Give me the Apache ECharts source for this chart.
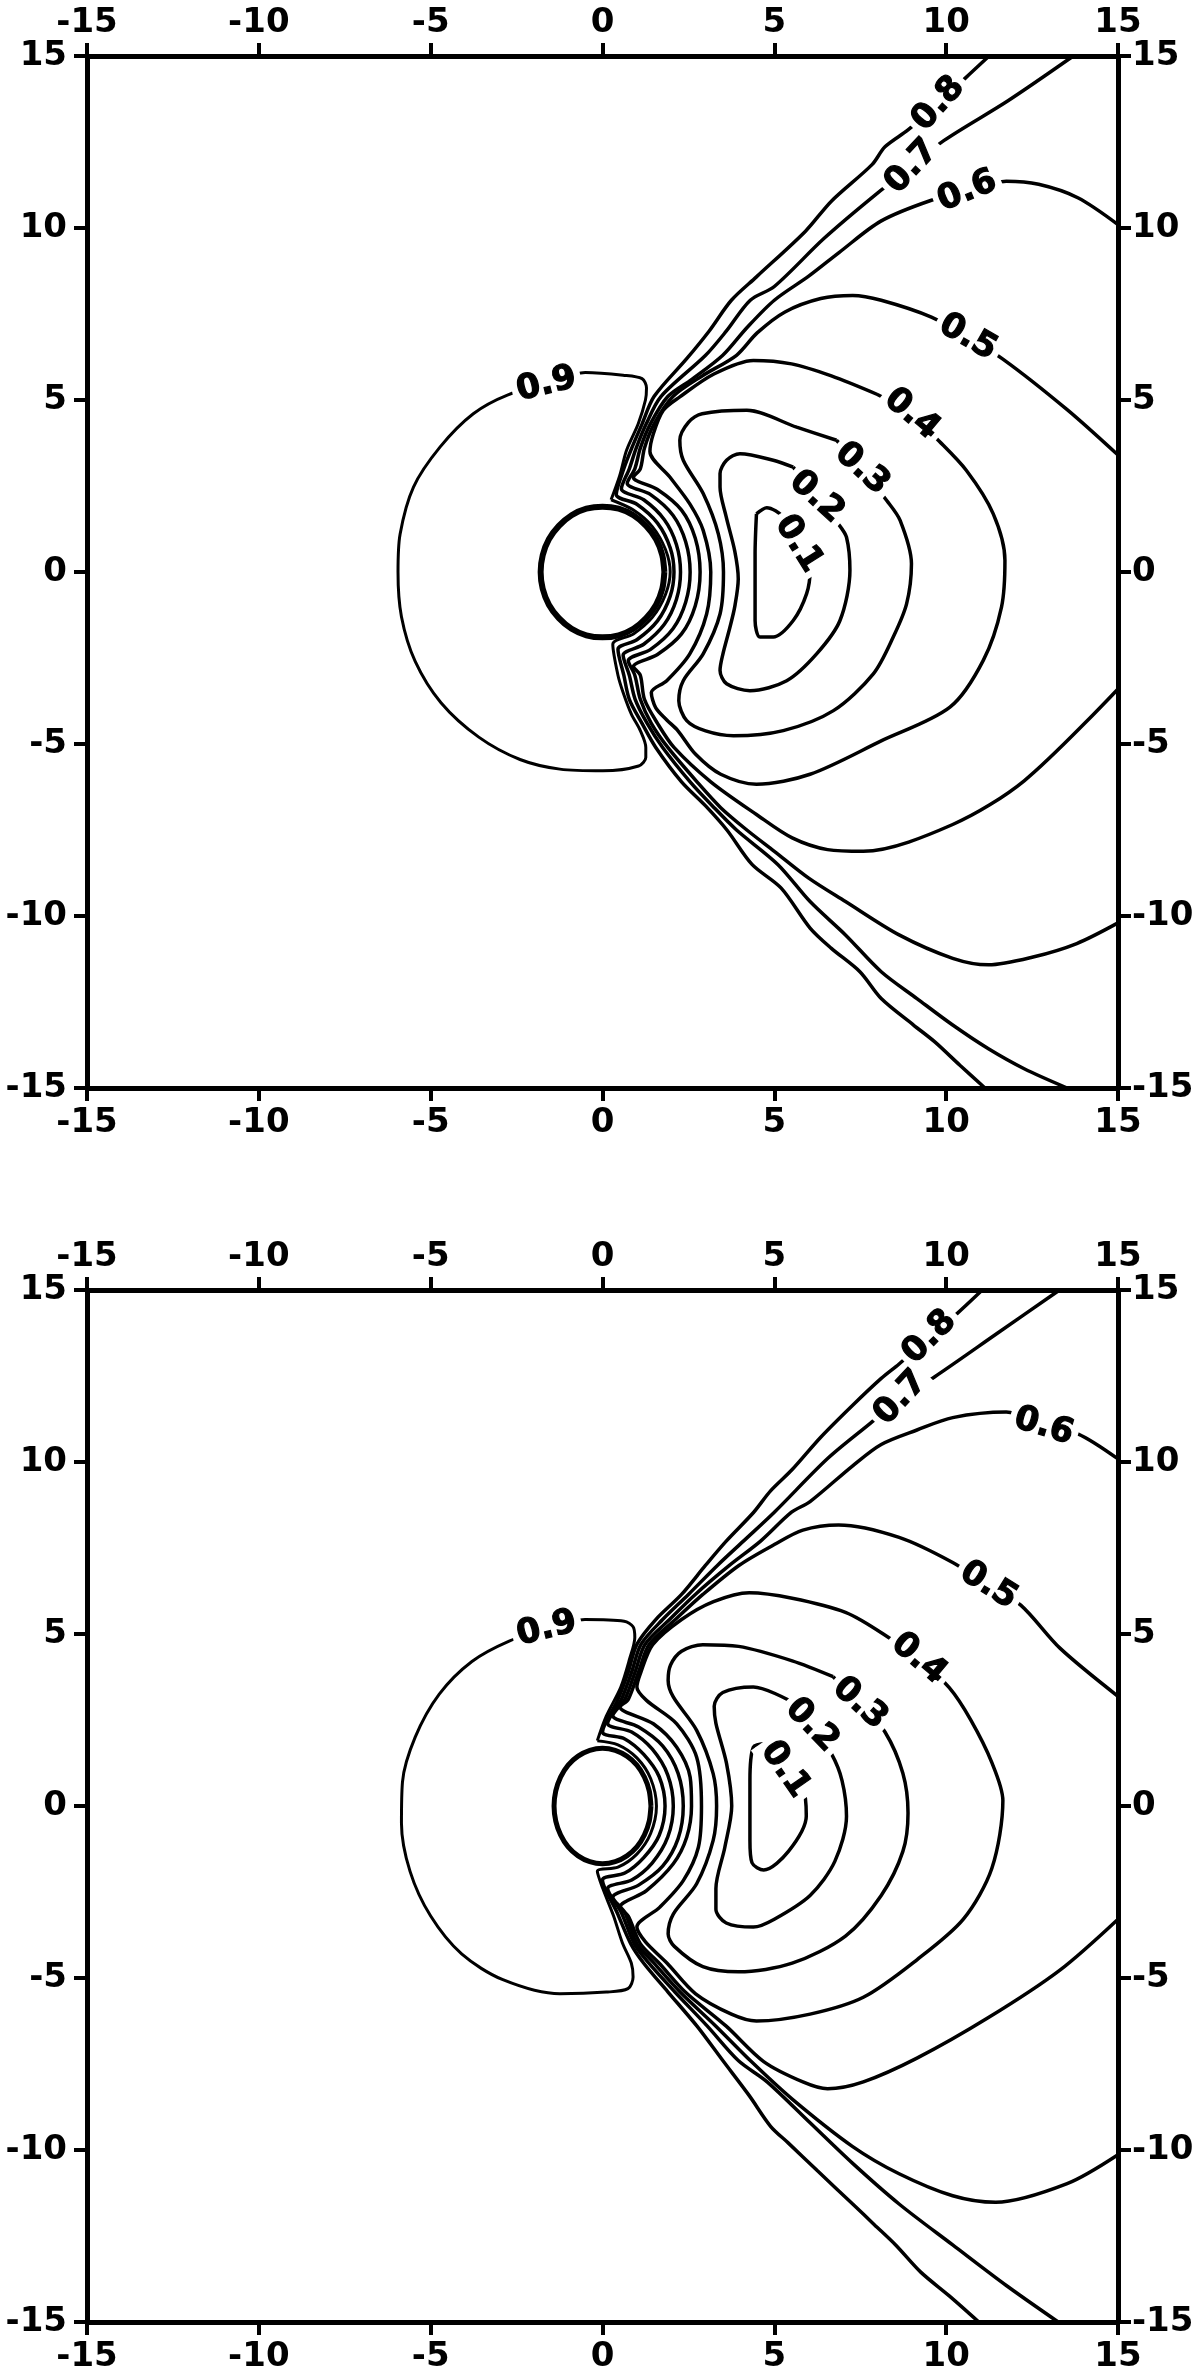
<!DOCTYPE html>
<html lang="en">
<head>
<meta charset="utf-8">
<script src="https://cdn.jsdelivr.net/npm/echarts@6/dist/echarts.min.js"></script>
<style>
  html, body { margin: 0; padding: 0; background: #fff; }
  #chart { width: 1200px; height: 2377px; }
</style>
</head>
<body>
<div id="chart"></div>
<script>
// tick values shared by all four axes of both panels
var ticks = [-15, -10, -5, 0, 5, 10, 15];

// ---------- upper panel ----------
var tSphere = [[1.8,0],[1.74,0.49],[1.56,0.95],[1.27,1.34],[0.9,1.65],[0.47,1.84],[0,1.9],[-0.47,1.84],[-0.9,1.65],[-1.27,1.34],[-1.56,0.95],[-1.74,0.49],[-1.8,0],[-1.74,-0.49],[-1.56,-0.95],[-1.27,-1.34],[-0.9,-1.65],[-0.47,-1.84],[0,-1.9],[0.47,-1.84],[0.9,-1.65],[1.27,-1.34],[1.56,-0.95],[1.74,-0.49],[1.8,0]];
var t09 = [[0.25,2.1],[0.5,2.8],[0.7,3.54],[1.04,4.31],[1.25,5.0],[1.28,5.35],[1.15,5.62],[0.6,5.72],[-0.5,5.8],[-1.63,5.45],[-2.75,5.15],[-3.76,4.6],[-4.73,3.63],[-5.5,2.47],[-5.89,1.1],[-5.95,0],[-5.85,-1.3],[-5.45,-2.6],[-4.7,-3.8],[-3.6,-4.8],[-2.4,-5.45],[-1.24,-5.73],[0.01,-5.78],[1.05,-5.64],[1.26,-5.39],[1.26,-5.1],[1.1,-4.61],[0.84,-4.13],[0.6,-3.5],[0.45,-3.0],[0.3,-2.1],[0.9,-1.8],[1.45,-1.32],[1.83,-0.66],[1.97,0],[1.83,0.66],[1.45,1.32],[0.9,1.8],[0.25,2.1]];
var t08 = [[11.25,15],[10.55,14.35],[9.78,13.61],[8.89,12.85],[8.22,12.36],[7.85,11.85],[6.66,10.78],[5.9,9.9],[4.48,8.58],[3.75,7.9],[3.1,7.0],[2.45,6.2],[1.5,5.1],[1.15,4.3],[0.85,3.6],[0.62,3.0],[0.4,2.25],[1.0,1.97],[1.6,1.42],[1.97,0.7],[2.08,0],[1.97,-0.7],[1.6,-1.42],[1.0,-1.97],[0.45,-2.25],[0.62,-3.0],[0.78,-3.7],[1.15,-4.4],[1.55,-5.1],[2.3,-6.1],[3.0,-6.8],[3.62,-7.5],[4.35,-8.5],[5.2,-9.19],[6.04,-10.35],[6.66,-10.94],[7.49,-11.62],[8.11,-12.4],[9.05,-13.17],[9.67,-13.66],[10.4,-14.34],[11.13,-15]];
var t07 = [[13.7,15],[11.8,13.7],[9.93,12.54],[9.0,11.78],[8.01,11.02],[6.45,9.7],[5.0,8.3],[4.3,7.9],[3.6,7.0],[3.0,6.3],[1.7,5.1],[1.27,4.3],[0.98,3.6],[0.78,3.0],[0.55,2.42],[1.2,2.1],[1.8,1.52],[2.15,0.8],[2.27,0],[2.15,-0.8],[1.8,-1.52],[1.2,-2.1],[0.6,-2.42],[0.78,-3.0],[0.95,-3.7],[1.3,-4.4],[1.75,-5.1],[2.55,-6.1],[3.2,-6.8],[3.9,-7.5],[5.1,-8.5],[6.04,-9.58],[7.07,-10.55],[8.11,-11.62],[9.15,-12.4],[10.19,-13.17],[11.23,-13.86],[12.27,-14.44],[13.52,-15]];
var t06 = [[15,10.1],[13.83,10.88],[12.69,11.27],[11.75,11.36],[10.62,11.07],[9.55,10.8],[8.1,10.2],[6.9,9.3],[6.0,8.6],[5.0,7.9],[4.2,7.1],[3.5,6.3],[2.6,5.6],[1.9,5.1],[1.39,4.3],[1.1,3.6],[0.94,3.0],[0.72,2.58],[1.4,2.25],[2.05,1.65],[2.42,0.88],[2.55,0],[2.42,-0.88],[2.05,-1.65],[1.4,-2.25],[0.75,-2.58],[0.94,-3.0],[1.1,-3.7],[1.42,-4.4],[1.9,-5.1],[2.75,-6.1],[3.44,-6.85],[4.2,-7.5],[5.0,-8.12],[6.0,-8.9],[7.07,-9.58],[8.63,-10.55],[10.19,-11.23],[11.23,-11.42],[12.5,-11.2],[13.8,-10.8],[15,-10.2]];
var t05 = [[15,3.4],[13.52,4.72],[11.65,6.19],[10.61,6.82],[9.57,7.41],[8.11,7.9],[7.28,8.04],[6.35,7.95],[5.31,7.56],[4.5,6.95],[3.9,6.3],[2.9,5.7],[2.05,5.1],[1.5,4.3],[1.22,3.6],[1.1,3.0],[0.9,2.75],[1.6,2.4],[2.3,1.8],[2.7,0.98],[2.84,0],[2.7,-0.98],[2.3,-1.8],[1.6,-2.4],[0.9,-2.75],[1.1,-3.0],[1.22,-3.7],[1.6,-4.4],[2.08,-5.1],[3.15,-6.1],[4.48,-7.05],[5.52,-7.73],[6.55,-8.07],[7.59,-8.12],[10.19,-7.34],[12.27,-6.07],[15,-3.4]];
var t04 = [[8.0,5.16],[6.66,5.7],[5.5,6.05],[4.39,6.15],[3.23,5.75],[2.25,5.09],[1.77,4.7],[1.48,4.02],[1.38,3.5],[1.96,2.76],[2.54,1.98],[2.93,1.21],[3.15,0],[3.03,-1.22],[2.54,-2.38],[1.87,-3.16],[1.42,-3.5],[1.55,-3.95],[1.87,-4.3],[2.19,-4.61],[2.71,-5.3],[3.44,-5.88],[4.48,-6.17],[6.04,-5.88],[8.11,-4.91],[10.11,-3.93],[11.08,-2.57],[11.61,-1.02],[11.71,0.34],[11.37,1.69],[10.59,2.95],[9.72,3.88],[9.0,4.58],[8.0,5.16]];
var t03 = [[6.81,3.83],[7.55,3.0],[8.27,2.08],[8.66,1.5],[8.99,0.24],[8.85,-0.92],[8.46,-1.89],[7.88,-2.96],[6.72,-4.03],[5.26,-4.61],[3.81,-4.76],[3.0,-4.62],[2.45,-4.32],[2.22,-3.74],[2.35,-3.16],[2.93,-2.38],[3.42,-1.22],[3.52,0],[3.37,1.11],[2.93,2.28],[2.35,3.25],[2.25,3.83],[2.5,4.35],[2.9,4.6],[4.2,4.7],[5.65,4.21],[6.81,3.83]];
var t02 = [[5.55,3.05],[6.23,2.18],[6.86,1.4],[7.1,1.01],[7.2,0.05],[6.91,-1.41],[6.23,-2.38],[5.36,-3.16],[4.29,-3.45],[3.61,-3.25],[3.42,-2.86],[3.5,-2.4],[3.71,-1.6],[3.85,-1.0],[3.95,-0.2],[3.85,0.6],[3.6,1.6],[3.42,2.47],[3.42,2.86],[3.61,3.25],[4.0,3.44],[4.97,3.25],[5.55,3.05]];
var t01 = [[4.48,1.69],[4.78,1.87],[5.26,1.6],[5.7,0.82],[6.04,0.05],[5.94,-0.63],[5.55,-1.41],[4.97,-1.89],[4.58,-1.89],[4.44,-1.41],[4.44,0.53],[4.48,1.69]];
var tLabelText = ['0.9', '0.8', '0.7', '0.6', '0.5', '0.4', '0.3', '0.2', '0.1'];
var tLabelXY = [[-1.63,5.45],[9.78,13.61],[9.0,11.78],[10.62,11.07],[10.63,6.82],[9.0,4.58],[7.55,3.0],[6.23,2.18],[5.7,0.82]];
var tLabelRot = [14, 48, 47, 22, -30, -40, -42, -42, -58];

// ---------- lower panel ----------
var bSphere = [[1.41,0],[1.36,0.44],[1.22,0.84],[1.0,1.19],[0.71,1.45],[0.37,1.62],[0,1.68],[-0.37,1.62],[-0.71,1.45],[-1.0,1.19],[-1.22,0.84],[-1.36,0.44],[-1.41,0],[-1.36,-0.44],[-1.22,-0.84],[-1.0,-1.19],[-0.71,-1.45],[-0.37,-1.62],[0,-1.68],[0.37,-1.62],[0.71,-1.45],[1.0,-1.19],[1.22,-0.84],[1.36,-0.44],[1.41,0]];
var b09 = [[-0.15,1.9],[0.11,2.61],[0.53,3.45],[0.79,4.28],[0.94,4.9],[0.89,5.21],[0.63,5.37],[-0.51,5.42],[-1.62,5.15],[-2.7,4.8],[-3.8,4.2],[-4.75,3.25],[-5.45,2.0],[-5.82,0.7],[-5.85,-0.5],[-5.6,-1.9],[-5.0,-3.2],[-4.1,-4.3],[-2.9,-5.05],[-1.24,-5.46],[0.11,-5.41],[0.74,-5.31],[0.89,-4.97],[0.84,-4.57],[0.58,-3.98],[0.32,-3.19],[0.01,-2.4],[-0.15,-1.9],[0.45,-1.78],[1.0,-1.4],[1.4,-0.8],[1.57,0],[1.4,0.8],[1.0,1.4],[0.45,1.78],[-0.15,1.9]];
var b08 = [[11.05,15],[10.3,14.3],[9.52,13.63],[8.63,12.85],[8.11,12.43],[7.28,11.65],[6.35,10.72],[5.52,9.78],[4.89,9.16],[4.4,8.54],[3.6,7.7],[3.0,7.0],[2.3,6.15],[1.55,5.42],[1.0,4.7],[0.75,3.9],[0.45,3.1],[0.0,2.15],[0.65,1.95],[1.2,1.5],[1.65,0.85],[1.82,0],[1.65,-0.85],[1.2,-1.5],[0.65,-1.95],[0.0,-2.15],[0.42,-3.09],[0.82,-4.0],[1.2,-4.57],[1.9,-5.4],[2.75,-6.4],[3.5,-7.4],[4.27,-8.42],[4.89,-9.31],[5.41,-9.8],[6.24,-10.59],[7.28,-11.57],[7.91,-12.17],[8.53,-12.76],[9.26,-13.55],[10.09,-14.24],[10.95,-15]];
var b07 = [[13.3,15],[11.5,13.75],[9.67,12.48],[8.68,11.86],[7.8,11.13],[6.55,10.1],[5.0,8.54],[4.1,7.7],[3.35,7.0],[2.5,6.15],[1.75,5.42],[1.12,4.7],[0.85,3.9],[0.55,3.1],[0.15,2.4],[0.85,2.15],[1.45,1.65],[1.9,0.9],[2.06,0],[1.9,-0.9],[1.45,-1.65],[0.85,-2.15],[0.15,-2.4],[0.55,-3.1],[0.92,-4.0],[1.35,-4.57],[2.1,-5.4],[3.05,-6.4],[3.95,-7.4],[4.79,-8.02],[6.04,-9.21],[7.28,-10.39],[8.63,-11.57],[10.19,-12.76],[11.75,-13.94],[13.26,-15]];
var b06 = [[15,10.09],[13.83,10.82],[12.84,11.03],[11.75,11.45],[10.19,11.29],[9.15,10.93],[8.11,10.51],[7.28,9.89],[6.04,8.85],[5.5,8.54],[4.6,7.7],[3.7,7.0],[2.7,6.15],[1.95,5.42],[1.24,4.7],[0.95,3.9],[0.65,3.1],[0.3,2.62],[1.05,2.3],[1.75,1.75],[2.2,0.95],[2.35,0],[2.2,-0.95],[1.75,-1.75],[1.05,-2.3],[0.3,-2.65],[0.65,-3.1],[1.0,-4.0],[1.5,-4.57],[2.25,-5.4],[3.3,-6.4],[4.3,-7.4],[5.52,-8.52],[7.28,-9.9],[8.63,-10.69],[10.19,-11.33],[11.44,-11.52],[13.52,-10.98],[15,-10.14]];
var b05 = [[15,3.19],[13.31,4.59],[12.17,5.84],[11.23,6.41],[10.19,7.08],[8.63,7.81],[6.87,8.17],[5.83,8.02],[5.0,7.6],[3.98,7.0],[2.92,6.15],[2.12,5.42],[1.36,4.7],[1.05,3.9],[0.75,3.1],[0.51,2.88],[1.48,2.39],[2.16,1.71],[2.55,0.84],[2.59,0],[2.45,-0.91],[2.06,-1.68],[1.28,-2.46],[0.51,-2.94],[0.75,-3.2],[1.1,-4.0],[1.65,-4.57],[2.4,-5.4],[3.6,-6.4],[4.69,-7.43],[5.83,-8.02],[6.55,-8.22],[7.59,-8.02],[9.15,-7.33],[11.23,-6.15],[13.31,-4.77],[15,-3.29]];
var b04 = [[8.17,5.0],[7.07,5.63],[5.52,6.04],[4.27,6.2],[3.23,5.94],[2.3,5.42],[1.46,4.69],[1.12,3.9],[1.0,3.46],[1.28,3.07],[2.16,2.39],[2.74,1.42],[2.88,0],[2.79,-1.2],[2.35,-2.17],[1.67,-2.94],[1.0,-3.52],[1.25,-3.95],[1.88,-4.57],[2.71,-5.46],[3.75,-6.05],[4.48,-6.25],[6.04,-6.05],[7.59,-5.56],[9.15,-4.47],[10.5,-3.29],[11.33,-1.81],[11.65,0.16],[11.33,1.26],[10.71,2.51],[10.09,3.44],[9.2,4.28],[8.17,5.0]];
var b03 = [[6.71,3.76],[7.49,2.98],[8.22,2.15],[8.74,0.95],[8.89,-0.2],[8.74,-1.32],[8.11,-2.6],[7.07,-3.78],[5.52,-4.57],[3.96,-4.82],[2.92,-4.67],[2.09,-4.08],[1.91,-3.72],[2.06,-3.14],[2.74,-2.26],[3.22,-1.0],[3.32,0],[3.22,0.94],[2.74,2.2],[2.06,3.17],[1.91,3.65],[1.98,4.1],[2.3,4.5],[2.92,4.69],[3.96,4.64],[5.52,4.22],[6.71,3.76]];
var b02 = [[5.41,3.08],[6.09,2.35],[6.66,1.52],[6.97,0.74],[7.1,-0.3],[6.76,-1.61],[6.04,-2.6],[5.0,-3.29],[4.39,-3.52],[3.6,-3.4],[3.3,-3.0],[3.3,-2.4],[3.56,-1.2],[3.76,0],[3.61,1.23],[3.3,2.4],[3.25,2.9],[3.5,3.3],[4.39,3.46],[5.41,3.08]];
var b01 = [[4.78,1.81],[5.31,1.06],[5.83,0.53],[5.93,-0.29],[5.41,-1.32],[4.69,-1.86],[4.35,-1.65],[4.29,-1.0],[4.29,0.74],[4.39,1.71],[4.78,1.81]];
var bLabelText = ['0.9', '0.8', '0.7', '0.6', '0.5', '0.4', '0.3', '0.2', '0.1'];
var bLabelXY = [[-1.62,5.15],[9.52,13.63],[8.68,11.86],[12.84,11.03],[11.23,6.41],[9.2,4.28],[7.49,2.98],[6.09,2.35],[5.31,1.06]];
var bLabelRot = [14, 45, 47, -17, -32, -40, -42, -46, -55];

var FONT = 'DejaVu Sans';

function axisFor(grid, pos, margin) {
    return {
        type: 'value', gridIndex: grid, position: pos,
        min: ticks[0], max: ticks[ticks.length - 1], interval: 5,
        axisLine: { show: true, onZero: false, lineStyle: { color: '#000', width: 5 } },
        axisTick: { show: true, inside: false, length: 13, lineStyle: { color: '#000', width: 4 } },
        axisLabel: { color: '#000', fontSize: 34, fontWeight: 'bold', fontFamily: FONT, margin: margin },
        splitLine: { show: false }
    };
}

function contour(data, ax, width) {
    return {
        type: 'line', xAxisIndex: ax, yAxisIndex: ax, data: data,
        symbol: 'none', smooth: 0.3, silent: true, z: 3,
        lineStyle: { color: '#000', width: width }
    };
}

function labels(xy, text, rot, ax) {
    return {
        type: 'scatter', xAxisIndex: ax, yAxisIndex: ax, z: 10, silent: true,
        symbolSize: 1, itemStyle: { color: 'rgba(0,0,0,0)' },
        label: {
            show: true, position: 'inside', color: '#000', opacity: 1,
            fontSize: 34, fontWeight: 'bold', fontFamily: FONT,
            textBorderColor: '#000', textBorderWidth: 1.2,
            backgroundColor: '#fff', padding: [0, 5]
        },
        data: xy.map(function (p, i) {
            return { value: p, label: { formatter: text[i], rotate: rot[i] } };
        })
    };
}

var chart = echarts.init(document.getElementById('chart'), null, { renderer: 'canvas' });

var series = [
    contour(tSphere, 0, 6), contour(t09, 0, 3),
    contour(bSphere, 2, 5), contour(b09, 2, 3)
];
[t08, t07, t06, t05, t04, t03, t02, t01].forEach(function (d) { series.push(contour(d, 0, 3.5)); });
[b08, b07, b06, b05, b04, b03, b02, b01].forEach(function (d) { series.push(contour(d, 2, 3.5)); });
series.push(labels(tLabelXY, tLabelText, tLabelRot, 0));
series.push(labels(bLabelXY, bLabelText, bLabelRot, 2));

chart.setOption({
    animation: false,
    backgroundColor: '#fff',
    grid: [
        { left: 87, top: 56, width: 1031, height: 1032 },
        { left: 87, top: 1290, width: 1031, height: 1032 }
    ],
    xAxis: [
        axisFor(0, 'bottom', 18), axisFor(0, 'top', 16),
        axisFor(1, 'bottom', 18), axisFor(1, 'top', 16)
    ],
    yAxis: [
        axisFor(0, 'left', 20), axisFor(0, 'right', 14),
        axisFor(1, 'left', 20), axisFor(1, 'right', 14)
    ],
    series: series
});
</script>
</body>
</html>
